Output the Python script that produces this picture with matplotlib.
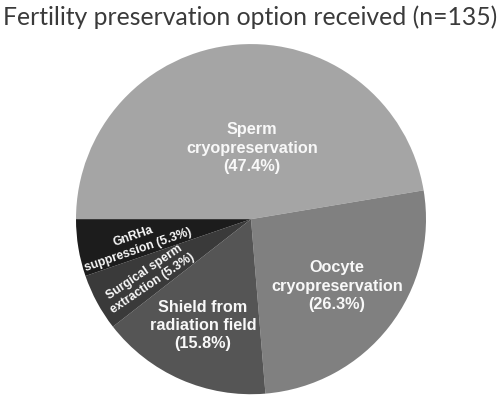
import matplotlib
matplotlib.use("Agg")
import matplotlib.pyplot as plt

categories = ["Sperm\ncryopreservation", "Oocyte\ncryopreservation", "Shield from\nradiation field",
              "Surgical sperm\nextraction", "GnRHa\nsuppression"]
counts = [9, 5, 3, 1, 1]
colors = ["#a5a5a5", "#808080", "#555555", "#3a3a3a", "#1c1c1c"]
title = "Fertility preservation option received (n=135)"

fig = plt.figure(figsize=(5.0, 3.97), dpi=100)
ax = fig.add_axes([0.152, 0.007, 0.7, 0.882])
wedges, _ = ax.pie(counts, colors=colors, startangle=180, counterclock=False,
                   wedgeprops=dict(linewidth=0))
ax.set_xlim(-1, 1)
ax.set_ylim(-1, 1)
ax.set_aspect("auto")
ax.axis("off")

total = sum(counts)
pcts = [100 * c / total for c in counts]

# label positions (data coords) and style
pos = [(0.006, 0.406), (0.49, -0.383), (-0.274, -0.606), (-0.585, -0.335), (-0.66, -0.137)]
rots = [0, 0, 0, 34, 19]
sizes = [11.7, 11.7, 11.7, 8.8, 8.8]
for i, (cat, p) in enumerate(zip(categories, pcts)):
    if i < 3:
        txt = f"{cat}\n({p:.1f}%)"
    else:
        txt = f"{cat} ({p:.1f}%)"
    ax.text(pos[i][0], pos[i][1], txt, ha="center", va="center", color="#f8f8f8",
            fontsize=sizes[i], fontweight="bold", family="Liberation Sans",
            rotation=rots[i], rotation_mode="anchor", linespacing=1.27)

fig.text(0.5, 0.957, title, ha="center", va="center", fontsize=17.8, family="Lato", color="#3a3a3a")
fig.savefig("out.png", dpi=100)
